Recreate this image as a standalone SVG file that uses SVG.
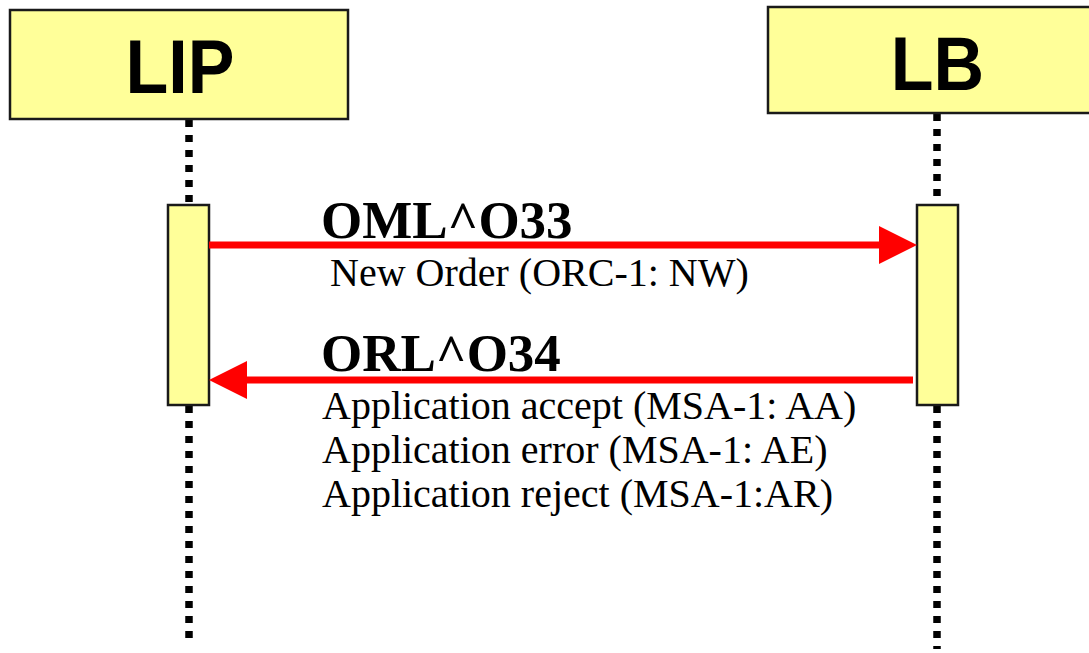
<svg xmlns="http://www.w3.org/2000/svg" width="1089" height="653" viewBox="0 0 1089 653">
  <style>
    .actor { fill: #FFFF99; stroke: #1a1a1a; stroke-width: 2.5; }
    .act { fill: #FFFF99; stroke: #1a1a1a; stroke-width: 2.5; }
    .life { stroke: #000; stroke-width: 7.5; stroke-dasharray: 7 8; fill: none; }
    .title { font-family: "Liberation Sans", Arial, sans-serif; font-weight: bold; font-size: 70px; fill: #000; text-anchor: middle; }
    .msg { font-family: "Liberation Serif", "Times New Roman", serif; font-weight: bold; font-size: 53px; fill: #000; }
    .sub { font-family: "Liberation Serif", "Times New Roman", serif; font-size: 40px; fill: #000; }
    .arrow { stroke: #FF0000; stroke-width: 7; fill: none; }
  </style>
  <defs>
    <marker id="ah" viewBox="0 0 38 38" refX="2" refY="19" markerWidth="38" markerHeight="38" markerUnits="userSpaceOnUse" orient="auto">
      <path d="M0,0 L38,19 L0,38 Z" fill="#FF0000"/>
    </marker>
  </defs>
  <rect width="1089" height="653" fill="#FFFFFF"/>

  <g id="lifelines">
    <line class="life" x1="189" y1="120" x2="189" y2="205"/>
    <line class="life" x1="189" y1="406" x2="189" y2="641"/>
    <line class="life" x1="937" y1="114" x2="937" y2="205"/>
    <line class="life" x1="937" y1="406" x2="937" y2="649"/>
  </g>

  <g id="LIP">
    <rect class="actor" x="10" y="10" width="338" height="109"/>
    <text class="title" x="180" y="93" transform="translate(0,93) scale(1,1.08) translate(0,-93)">LIP</text>
  </g>
  <g id="LB">
    <rect class="actor" x="768" y="7" width="340" height="106"/>
    <text class="title" x="937.5" y="90" transform="translate(0,90) scale(1,1.08) translate(0,-90)">LB</text>
  </g>

  <g id="LIP-activation">
    <rect class="act" x="168" y="205" width="41" height="200"/>
  </g>
  <g id="LB-activation">
    <rect class="act" x="917" y="205" width="41" height="200"/>
  </g>

  <g id="connectors">
    <line class="arrow" x1="209" y1="245" x2="881" y2="245" marker-end="url(#ah)"/>
    <line class="arrow" x1="913" y1="380" x2="245" y2="380" marker-end="url(#ah)"/>
  </g>

  <g id="labels">
    <text class="msg" x="321" y="238">OML^O33</text>
    <text class="sub" x="330" y="286">New Order (ORC-1: NW)</text>
    <text class="msg" x="321" y="371">ORL^O34</text>
    <text class="sub" x="322" y="419">Application accept (MSA-1: AA)</text>
    <text class="sub" x="322" y="463">Application error (MSA-1: AE)</text>
    <text class="sub" x="322" y="507">Application reject (MSA-1:AR)</text>
  </g>
</svg>
